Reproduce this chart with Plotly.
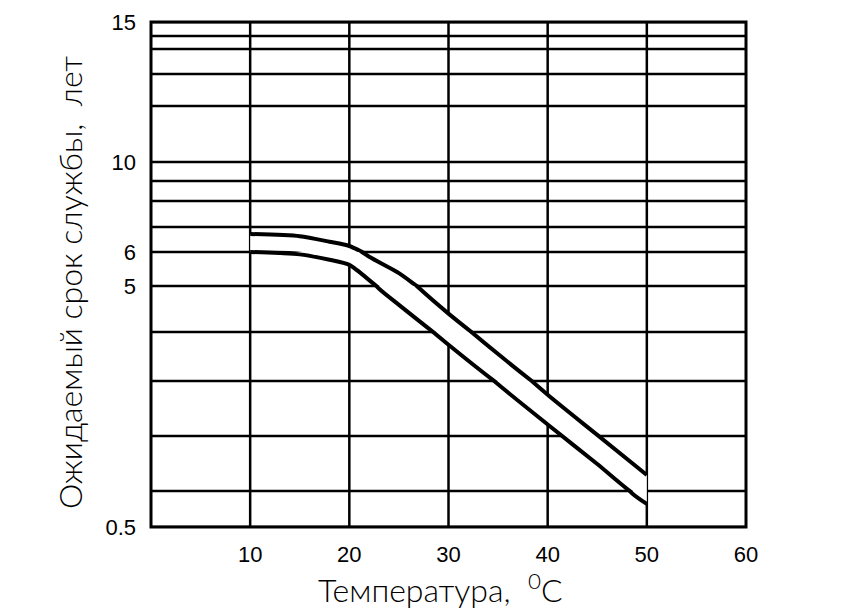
import plotly.graph_objects as go

# ---------------- data ----------------
temperature_upper = [10, 15, 18, 20, 22, 25, 27, 30, 35, 40, 45, 50]
service_life_upper = [6.72, 6.63, 6.41, 6.24, 5.86, 5.38, 4.96, 4.40, 3.55, 2.75, 2.02, 1.29]

temperature_lower = [10, 15, 18, 20, 23, 25, 30, 35, 40, 45, 48.5, 50]
service_life_lower = [6.00, 5.93, 5.77, 5.62, 4.94, 4.59, 3.74, 2.94, 2.21, 1.49, 0.97, 0.82]

x_tick_values = [10, 20, 30, 40, 50, 60]
x_tick_labels = ["10", "20", "30", "40", "50", "60"]

y_grid_values = [0.5, 1, 2, 3, 4, 5, 6, 7, 8, 9, 10, 11, 12, 13, 14, 15]
y_label_values = [0.5, 5, 6, 10, 15]
y_label_texts = ["0.5", "5", "6", "10", "15"]

x_title = "Температура,  <sup>0</sup>C"
y_title = "Ожидаемый срок службы,  лет"

# ---------------- layout ----------------
# The original chart uses a non-uniform value scale; it is reproduced with one
# linear axis per grid interval, stacked.  Heights (px from the plot bottom)
# of each grid value on that scale:
PLOT_H = 505
scale_rows = [0, 36, 91, 146, 195, 241, 275, 300, 326, 346, 365, 421, 453, 478, 491, 505]
scale_fraction = [r / PLOT_H for r in scale_rows]

TICK_FONT = dict(family="Liberation Sans, Arial, sans-serif", size=22, color="black")
TITLE_FONT = dict(family="Lato, Open Sans, DejaVu Sans, sans-serif", size=32, color="black", weight=300)
GRID_W = 2.5

fig = go.Figure()
layout_axes = {}
shapes = []
n_seg = len(y_grid_values) - 1

for k in range(n_seg):
    lo, hi = y_grid_values[k], y_grid_values[k + 1]
    yname = "y" if k == 0 else f"y{k + 1}"
    ykey = "yaxis" if k == 0 else f"yaxis{k + 1}"

    tv, tt = [], []
    for v, t in zip(y_label_values, y_label_texts):
        if v == lo or (k == n_seg - 1 and v == hi):
            tv.append(v)
            tt.append(t)

    layout_axes[ykey] = dict(
        domain=[scale_fraction[k], scale_fraction[k + 1]],
        range=[lo, hi],
        anchor="x",
        showgrid=False,
        zeroline=False,
        showline=False,
        tickmode="array",
        tickvals=tv,
        ticktext=tt,
        showticklabels=bool(tv),
        ticks="",
        ticklabelstandoff=14,
        tickfont=TICK_FONT,
        automargin=False,
        fixedrange=True,
    )

    # both curves with a white band between them
    fig.add_trace(go.Scatter(
        x=temperature_lower, y=service_life_lower, xaxis="x", yaxis=yname,
        mode="lines", line=dict(color="black", width=4, shape="spline", smoothing=0.7),
        showlegend=False, hoverinfo="skip",
    ))
    fig.add_trace(go.Scatter(
        x=temperature_upper, y=service_life_upper, xaxis="x", yaxis=yname,
        mode="lines", line=dict(color="black", width=4, shape="spline", smoothing=0.7),
        fill="tonexty", fillcolor="white",
        showlegend=False, hoverinfo="skip",
    ))

    # horizontal grid lines at both bounds of the interval (each half clipped)
    for v in (lo, hi):
        shapes.append(dict(
            type="line", xref="x", yref=yname, x0=0, x1=60, y0=v, y1=v,
            line=dict(color="black", width=GRID_W), layer="below",
        ))

# vertical grid lines
for xv in x_tick_values[:-1]:
    shapes.append(dict(
        type="line", xref="x", yref="paper", x0=xv, x1=xv, y0=0, y1=1,
        line=dict(color="black", width=GRID_W), layer="below",
    ))

# frame
shapes.append(dict(
    type="rect", xref="paper", yref="paper", x0=0, x1=1, y0=0, y1=1,
    line=dict(color="black", width=3), fillcolor="rgba(0,0,0,0)", layer="above",
))

fig.update_layout(
    width=844, height=609,
    margin=dict(l=151, r=98, t=22, b=82),
    paper_bgcolor="white", plot_bgcolor="white",
    showlegend=False,
    xaxis=dict(
        domain=[0, 1], range=[0, 60], anchor="y",
        showgrid=False, zeroline=False, showline=False,
        tickmode="array", tickvals=x_tick_values, ticktext=x_tick_labels,
        ticks="", ticklabelstandoff=12, tickfont=TICK_FONT,
        automargin=False, fixedrange=True,
    ),
    shapes=shapes,
    annotations=[
        dict(text=x_title, xref="paper", yref="paper", x=0.486, y=-0.121,
             xanchor="center", yanchor="middle", showarrow=False, font=TITLE_FONT),
        dict(text=y_title, xref="paper", yref="paper", x=-0.138, y=0.485,
             xanchor="center", yanchor="middle", textangle=-90, showarrow=False,
             font=TITLE_FONT),
    ],
)
fig.update_layout(**layout_axes)

fig.write_html("out.html")
